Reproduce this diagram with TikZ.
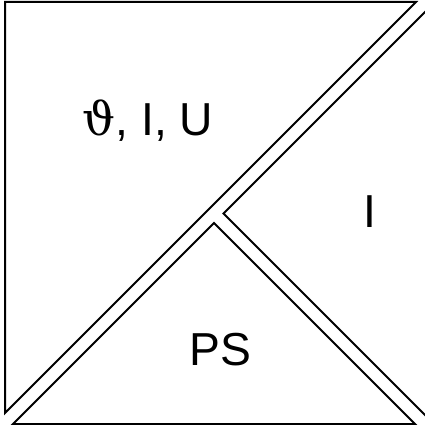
\documentclass[tikz,border=0pt]{standalone}
\usepackage{fontspec}
\setmainfont{Liberation Sans}
\newfontfamily\thetafont{DejaVu Serif}
\usetikzlibrary{positioning}

\begin{document}
\begin{tikzpicture}[
  x=0.4pt, y=-0.4pt,
  edge/.style={draw=black,line width=0.8pt,line join=miter},
  lbl/.style={font=\fontsize{18.5}{22}\selectfont,inner sep=0pt}
]
\useasboundingbox (0,0) rectangle (425,425);

% upper left region
\coordinate (tl) at (5,2);
\coordinate (tr) at (416,2);
\coordinate (lb) at (5,413);
% right region
\coordinate (ne) at (427,10);
\coordinate (jb) at (223.5,213.5);
\coordinate (se) at (427,417);
% lower region
\coordinate (sw) at (13,424);
\coordinate (ja) at (214,223);
\coordinate (sb) at (415,424);

\draw[edge] (lb) -- (tl) -- (tr) -- cycle;
\draw[edge] (ne) -- (jb) -- (se);
\draw[edge] (sw) -- (ja) -- (sb) -- cycle;

\node[lbl] (gas) at (148,121) {{\thetafont ϑ}, I, U};
\node[lbl] (ion) at (370,212) {I};
\node[lbl] (ps) at (220,350) {PS};
\end{tikzpicture}
\end{document}
